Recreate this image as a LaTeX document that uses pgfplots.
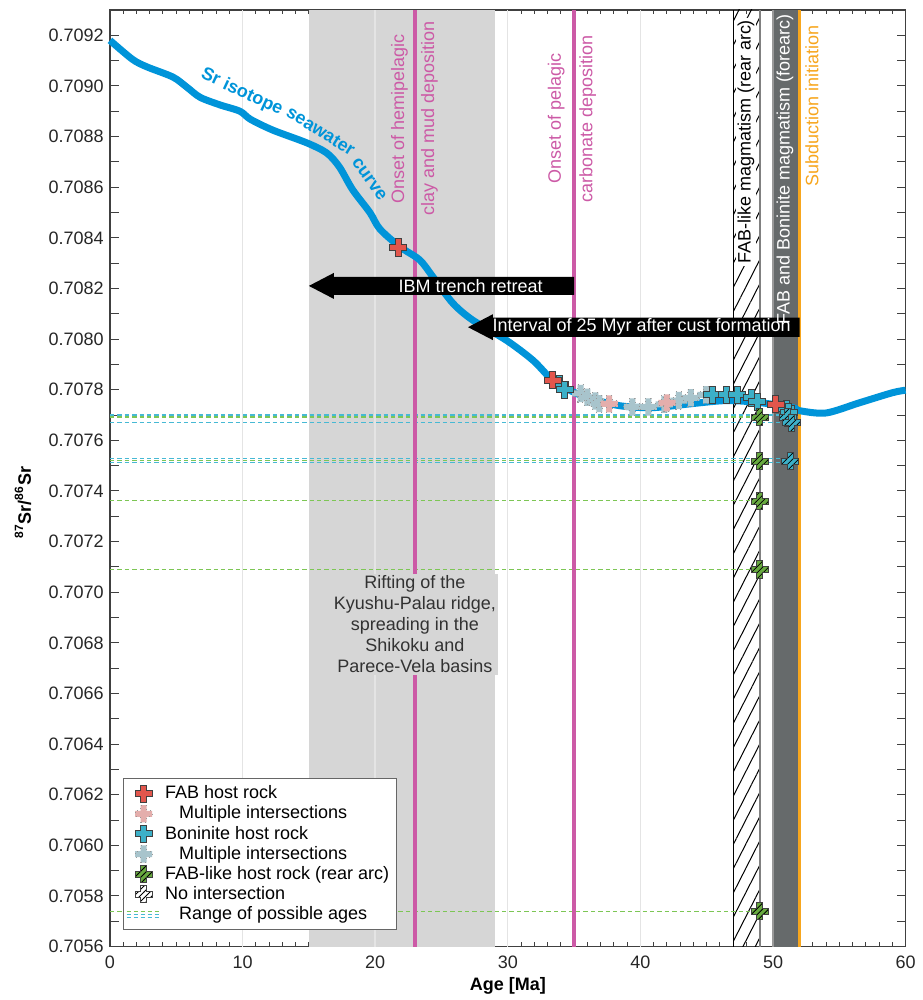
\documentclass[border=0pt]{standalone}
\usepackage{fontspec}
\setmainfont{Liberation Sans}
\usepackage{pgfplots}
\pgfplotsset{compat=1.18}
\usetikzlibrary{patterns,patterns.meta}

\definecolor{srblue}{RGB}{0,148,217}
\definecolor{magc}{RGB}{204,90,166}
\definecolor{orangec}{RGB}{247,166,30}
\definecolor{darkband}{RGB}{102,106,107}
\definecolor{bandgray}{RGB}{214,214,214}
\definecolor{gridc}{RGB}{228,228,228}
\definecolor{fabred}{RGB}{226,86,76}
\definecolor{fabpink}{RGB}{228,174,172}
\definecolor{boncyan}{RGB}{60,176,200}
\definecolor{palecyan}{RGB}{168,196,204}
\definecolor{fabgreen}{RGB}{104,170,64}
\definecolor{dashgreen}{RGB}{125,198,85}
\definecolor{dashcyan}{RGB}{70,185,212}
\definecolor{textgray}{RGB}{50,50,50}

% thick plus used for all samples
\newcommand{\plusshape}{%
  \pgfpathmoveto{\pgfqpoint{-1.5pt}{4.3pt}}%
  \pgfpathlineto{\pgfqpoint{1.5pt}{4.3pt}}%
  \pgfpathlineto{\pgfqpoint{1.5pt}{1.5pt}}%
  \pgfpathlineto{\pgfqpoint{4.3pt}{1.5pt}}%
  \pgfpathlineto{\pgfqpoint{4.3pt}{-1.5pt}}%
  \pgfpathlineto{\pgfqpoint{1.5pt}{-1.5pt}}%
  \pgfpathlineto{\pgfqpoint{1.5pt}{-4.3pt}}%
  \pgfpathlineto{\pgfqpoint{-1.5pt}{-4.3pt}}%
  \pgfpathlineto{\pgfqpoint{-1.5pt}{-1.5pt}}%
  \pgfpathlineto{\pgfqpoint{-4.3pt}{-1.5pt}}%
  \pgfpathlineto{\pgfqpoint{-4.3pt}{1.5pt}}%
  \pgfpathlineto{\pgfqpoint{-1.5pt}{1.5pt}}%
  \pgfpathclose}
\pgfdeclareplotmark{bigplus}{\plusshape\pgfusepathqfillstroke}
\pgfdeclareplotmark{hatchplus}{%
  \plusshape\pgfusepathqfill
  \begin{pgfscope}\pgfsetfillpattern{north east lines}{black}\plusshape\pgfusepathqfill\end{pgfscope}%
  \plusshape\pgfusepathqstroke}

\pgfplotsset{
  fabsty/.style={only marks, mark=bigplus, mark options={solid, fill=fabred, draw=black!75, line width=0.5pt}},
  fabmsty/.style={only marks, mark=bigplus, mark options={dotted, fill=fabpink, draw=gray!80, line width=0.5pt}},
  bonsty/.style={only marks, mark=bigplus, mark options={solid, fill=boncyan, draw=black!75, line width=0.5pt}},
  bonmsty/.style={only marks, mark=bigplus, mark options={dotted, fill=palecyan, draw=gray!80, line width=0.5pt}},
  greensty/.style={only marks, mark=hatchplus, mark options={solid, fill=fabgreen, draw=black!75, line width=0.5pt}},
  bonhsty/.style={only marks, mark=hatchplus, mark options={solid, fill=boncyan, draw=black!75, line width=0.5pt}},
  noisty/.style={only marks, mark=hatchplus, mark options={solid, fill=white, draw=black!75, line width=0.5pt}},
  gline/.style={dashgreen, line width=0.6pt, dash pattern=on 2.2pt off 1.5pt, forget plot},
  cline/.style={dashcyan, line width=0.6pt, dash pattern=on 2.2pt off 1.5pt, forget plot},
}

\begin{document}
\fontsize{9}{10.5}\selectfont
\begin{tikzpicture}
\begin{axis}[
  scale only axis,
  width=398pt, height=468.5pt,
  xmin=0, xmax=60, ymin=0.7056, ymax=0.7093,
  clip=false,
  axis line style={black!75, line width=0.6pt},
  xtick={0,10,20,30,40,50,60},
  minor x tick num=9,
  ytick={0.7056,0.7058,0.7060,0.7062,0.7064,0.7066,0.7068,0.7070,0.7072,0.7074,0.7076,0.7078,0.7080,0.7082,0.7084,0.7086,0.7088,0.7090,0.7092},
  extra y ticks={0.7057,0.7059,0.7061,0.7063,0.7065,0.7067,0.7069,0.7071,0.7073,0.7075,0.7077,0.7079,0.7081,0.7083,0.7085,0.7087,0.7089,0.7091},
  extra y tick labels={},
  major tick length=4.5pt, minor tick length=2.2pt,
  tick style={black!75, line width=0.5pt},
  scaled y ticks=false,
  yticklabel style={/pgf/number format/.cd, fixed, fixed zerofill, precision=4, assume math mode=true},
  xticklabel style={/pgf/number format/assume math mode=true, yshift=-1.5pt},
  tick label style={text=black!85},
  xlabel={\textbf{Age [Ma]}},
  ylabel={\textbf{\textsuperscript{87}Sr/\textsuperscript{86}Sr}},
  every axis x label/.style={at={(axis description cs:0.5,0)}, anchor=center, yshift=-19.5pt},
  every axis y label/.style={at={([xshift=-43.5pt]axis description cs:0,0.474)}, anchor=center, rotate=90},
  legend style={at={(0.016,0.018)}, anchor=south west, draw=black!60, fill=white,
    font=\fontsize{9}{10.5}\selectfont, inner sep=1.5pt, row sep=-1.8pt},
  legend cell align=left,
]

% background bands and grid
\fill[bandgray] (axis cs:15,0.7056) rectangle (axis cs:29,0.7093);
\pgfplotsinvokeforeach{10,20,30,40}{\draw[gridc, line width=0.7pt] (axis cs:#1,0.7056) -- (axis cs:#1,0.7093);}
\fill[pattern={Lines[angle=63,distance=5.5pt,line width=0.5pt]}, pattern color=black] (axis cs:47,0.7056) rectangle (axis cs:49,0.7093);
\draw[black, line width=0.6pt] (axis cs:47,0.7056) -- (axis cs:47,0.7093);
\draw[gray, line width=1pt] (axis cs:49,0.7056) -- (axis cs:49,0.7093);
\fill[darkband] (axis cs:50,0.7056) rectangle (axis cs:51.85,0.7093);
\draw[gray!80, line width=0.6pt] (axis cs:50,0.7056) -- (axis cs:50,0.7093);

% ranges of possible ages
\addplot[cline] coordinates {(0,0.707700) (51.0,0.707700)};
\addplot[gline] coordinates {(0,0.707692) (49.0,0.707692)};
\addplot[cline] coordinates {(0,0.707671) (51.3,0.707671)};
\addplot[cline] coordinates {(0,0.707527) (51.3,0.707527)};
\addplot[gline] coordinates {(0,0.707520) (49.0,0.707520)};
\addplot[cline] coordinates {(0,0.707513) (51.3,0.707513)};
\addplot[gline] coordinates {(0,0.707362) (49.0,0.707362)};
\addplot[gline] coordinates {(0,0.707090) (49.0,0.707090)};
\addplot[gline] coordinates {(0,0.705740) (49.0,0.705740)};

% event lines
\draw[magc, line width=1.7pt] (axis cs:23,0.7056) -- (axis cs:23,0.7093);
\draw[magc, line width=1.7pt] (axis cs:35,0.7056) -- (axis cs:35,0.7093);
\draw[orangec, line width=1.8pt] (axis cs:52,0.7056) -- (axis cs:52,0.7093);

% Sr isotope seawater curve
\addplot[srblue, line width=3.5pt, smooth, forget plot] coordinates {
  (0,0.709180) (1.7,0.709105) (2.8,0.709075) (4.75,0.709035) (5.8,0.708995)
  (6.8,0.708955) (8.3,0.708925) (9.8,0.708900) (10.6,0.708868) (12.3,0.708825)
  (14.85,0.708775) (16.35,0.708735) (17.3,0.708680) (18.3,0.708590) (19.6,0.708500)
  (20.35,0.708435) (21.85,0.708365) (23.35,0.708313) (24.35,0.708246) (25.85,0.708142)
  (27.35,0.708075) (29.9,0.707995) (31.9,0.707916) (33.4,0.707836) (34.7,0.707797)
  (36.0,0.707769) (38.4,0.707737) (40.9,0.707729) (43.9,0.707745) (46.5,0.707757)
  (49.0,0.707749) (51.5,0.707729) (52.0,0.707717) (54.0,0.707708) (56.5,0.707748)
  (59.0,0.707788) (60,0.707798)
};

% arrows
\fill[black] (axis cs:15,0.70821)
  -- ([xshift=12.5pt,yshift=6.5pt]axis cs:15,0.70821)
  -- ([xshift=12.5pt,yshift=4.5pt]axis cs:15,0.70821)
  -- ([yshift=4.5pt]axis cs:35,0.70821)
  -- ([yshift=-4.5pt]axis cs:35,0.70821)
  -- ([xshift=12.5pt,yshift=-4.5pt]axis cs:15,0.70821)
  -- ([xshift=12.5pt,yshift=-6.5pt]axis cs:15,0.70821) -- cycle;
\node[text=white] at (axis cs:27.2,0.70821) {IBM trench retreat};
\fill[black] (axis cs:27,0.708047)
  -- ([xshift=12.5pt,yshift=6.5pt]axis cs:27,0.708047)
  -- ([xshift=12.5pt,yshift=4.8pt]axis cs:27,0.708047)
  -- ([yshift=4.8pt]axis cs:52,0.708047)
  -- ([yshift=-4.8pt]axis cs:52,0.708047)
  -- ([xshift=12.5pt,yshift=-4.8pt]axis cs:27,0.708047)
  -- ([xshift=12.5pt,yshift=-6.5pt]axis cs:27,0.708047) -- cycle;
\node[text=white] at (axis cs:40.1,0.708047) {Interval of 25 Myr after cust formation};

% samples
\addplot[bonmsty, forget plot] coordinates {
  (35.5,0.707785) (36.0,0.707770) (36.6,0.707755) (36.9,0.707745) (39.4,0.707732)
  (40.6,0.707732) (41.8,0.707742) (42.9,0.707757) (43.8,0.707768) (44.95,0.707780)
};
\addplot[fabmsty, forget plot] coordinates {(37.65,0.707744) (42.0,0.707748)};
\addplot[bonsty, forget plot] coordinates {
  (33.9,0.707822) (34.3,0.707800) (45.4,0.707780) (46.5,0.707780) (47.3,0.707780)
  (48.4,0.707768) (48.8,0.707752) (51.0,0.707725) (51.2,0.707710)
};
\addplot[fabsty, forget plot] coordinates {(21.75,0.708362) (33.4,0.707838) (50.2,0.707743)};
\addplot[greensty, forget plot] coordinates {
  (49.0,0.707692) (49.0,0.707518) (49.0,0.707360) (49.0,0.707090) (49.0,0.705740)
};
\addplot[bonhsty, forget plot] coordinates {(51.1,0.707690) (51.4,0.707670) (51.3,0.707518)};

% labels
\node[rotate=-25, inner sep=0pt, text=srblue, font=\bfseries] at (axis cs:9.95,0.708975) {Sr isotope};
\node[rotate=-32, inner sep=0pt, text=srblue, font=\bfseries] at (axis cs:15.9,0.708822) {seawater};
\node[rotate=-54, inner sep=0pt, text=srblue, font=\bfseries] at (axis cs:19.55,0.708632) {curve};

\node[rotate=90, inner sep=0pt, text=magc] at (axis cs:21.84,0.70887) {Onset of hemipelagic};
\node[rotate=90, inner sep=0pt, text=magc] at (axis cs:24.1,0.70887) {clay and mud deposition};
\node[rotate=90, inner sep=0pt, text=magc] at (axis cs:33.66,0.70887) {Onset of pelagic};
\node[rotate=90, inner sep=0pt, text=magc] at (axis cs:36.03,0.70887) {carbonate deposition};
\node[rotate=90, anchor=east, inner sep=1pt, fill=white, text=black] at (axis cs:47.97,0.70927) {FAB-like magmatism (rear arc)};
\node[rotate=90, anchor=east, inner sep=1pt, text=white] at (axis cs:50.9,0.70929) {FAB and Boninite magmatism (forearc)};
\node[rotate=90, anchor=east, inner sep=1pt, text=orangec] at (axis cs:52.94,0.70925) {Subduction initiation};
\node[fill=bandgray, text=textgray, align=center, inner sep=1pt] at (axis cs:23,0.706873)
  {Rifting of the\\Kyushu-Palau ridge,\\spreading in the\\Shikoku and\\Parece-Vela basins};

% legend
\addlegendimage{fabsty}
\addlegendentry{FAB host rock}
\addlegendimage{fabmsty}
\addlegendentry{\hspace{7pt}Multiple intersections}
\addlegendimage{bonsty}
\addlegendentry{Boninite host rock}
\addlegendimage{bonmsty}
\addlegendentry{\hspace{7pt}Multiple intersections}
\addlegendimage{greensty}
\addlegendentry{FAB-like host rock (rear arc)}
\addlegendimage{noisty}
\addlegendentry{No intersection}
\addlegendimage{legend image code/.code={
  \draw[dashgreen, line width=0.5pt, dash pattern=on 2pt off 1.5pt] (0cm,1.4pt) -- (0.6cm,1.4pt);
  \draw[dashcyan, line width=0.5pt, dash pattern=on 2pt off 1.5pt] (0cm,-0.2pt) -- (0.6cm,-0.2pt);
  \draw[dashcyan, line width=0.5pt, dash pattern=on 2pt off 1.5pt] (0cm,-1.6pt) -- (0.6cm,-1.6pt);}}
\addlegendentry{\hspace{7pt}Range of possible ages}

% picture frame as in the reference
\coordinate (bbsw) at ([xshift=-55pt,yshift=-26.5pt]rel axis cs:0,0);
\coordinate (bbne) at ([xshift=8.5pt,yshift=5pt]rel axis cs:1,1);
\end{axis}
\path (bbsw) rectangle (bbne);
\end{tikzpicture}
\end{document}
